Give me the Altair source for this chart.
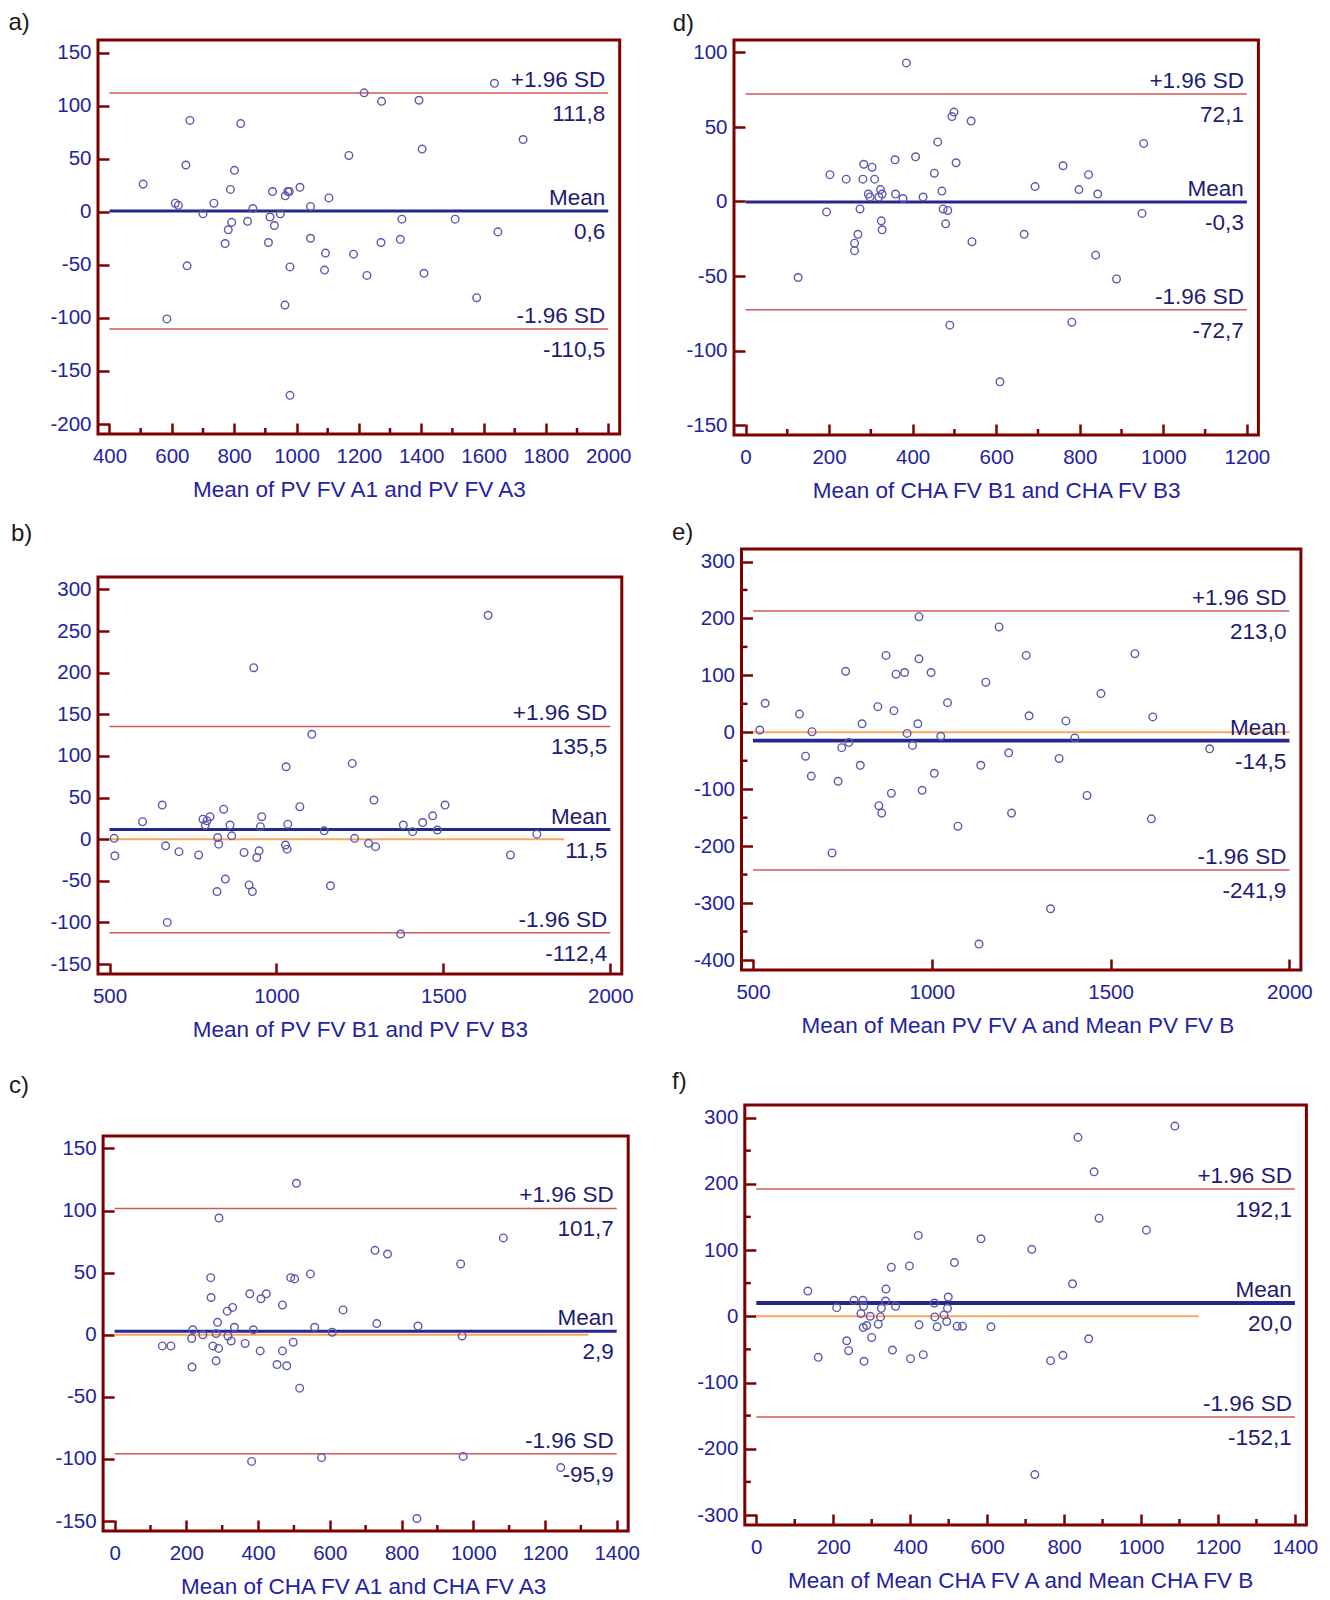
import altair as alt
import pandas as pd

# ---------------- data ----------------
a_x = [508, 584, 611, 621, 645, 649, 658, 700, 735, 771, 781, 788, 792, 801, 821, 843, 860, 910, 915, 923,
       929, 948, 964, 972, 977, 963, 979, 979, 1011, 1045, 1045, 1093, 1090, 1104, 1168, 1183, 1217, 1226, 1271, 1273,
       1333, 1338, 1393, 1403, 1409, 1509, 1578, 1635, 1646, 1727]
a_y = [26, -101, 8, 6, 44, -51, 86, -2, 8, -30, -17, 21, -10, 39, 83, -9, 3, -29, -5, 19,
       -13, -2, 15, 19, 19, -88, -52, -173, 23, 5, -25, -39, -55, 13, 53, -40, 112, -60, -29, 104,
       -26, -7, 105, 59, -58, -7, -81, 121, -19, 68]

b_x = [514, 516, 599, 658, 668, 673, 708, 767, 780, 787, 792, 801, 824, 827, 822, 842, 847, 861, 866, 903,
       918, 928, 932, 941, 948, 952, 956, 1027, 1032, 1029, 1034, 1070, 1106, 1143, 1162, 1227, 1234, 1276, 1292, 1297,
       1372, 1380, 1408, 1438, 1468, 1482, 1505, 1634, 1701, 1780]
b_y = [1, -20, 21, 41, -8, -100, -15, -19, 24, 17, 22, 27, 2, -6, -63, 36, -48, 17, 4, -16,
       -55, -63, 206, -22, -14, 15, 27, -7, -12, 87, 18, 39, 126, 10, -56, 91, 1, -5, 47, -9,
       -114, 17, 9, 20, 28, 11, 41, 269, -19, 6]

c_x = [133, 157, 215, 218, 216, 246, 268, 269, 274, 283, 283, 287, 290, 291, 314, 316, 325, 329, 334, 364,
       377, 382, 387, 406, 408, 423, 453, 468, 468, 480, 491, 502, 498, 507, 516, 546, 558, 577, 607, 637,
       726, 731, 761, 843, 846, 965, 969, 972, 1084, 1244]
c_y = [-9, -9, -3, 4, -26, 0, 46, 30, -9, 1, -21, 10, -11, 94, 19, -1, -5, 22, 6, -7,
       33, -102, 4, -13, 29, 33, -24, 24, -13, -25, 46, 45, -6, 122, -43, 49, 6, -99, 2, 20,
       68, 9, 65, -148, 7, 57, -1, -98, 78, -107]

d_x = [385, 126, 194, 202, 241, 261, 261, 269, 274, 281, 283, 294, 298, 303, 309, 319, 323, 327, 325, 327,
       358, 359, 377, 407, 425, 452, 460, 470, 473, 484, 479, 489, 494, 499, 504, 540, 542, 609, 667, 693,
       760, 781, 798, 821, 838, 843, 888, 949, 953]
d_y = [93, -51, -7, 18, 15, -28, -33, -22, -5, 15, 25, 5, 3, 23, 15, 3, 8, 5, -13, -19,
       28, 5, 2, 30, 3, 19, 40, 7, -5, -6, -15, -83, 57, 60, 26, 54, -27, -121, -22, 10,
       24, -81, 8, 18, -36, 5, -52, -8, 39]

e_x = [519, 534, 630, 647, 665, 663, 721, 738, 748, 759, 768, 800, 805, 849, 852, 860, 872, 887, 894, 900,
       924, 931, 946, 961, 964, 964, 973, 998, 1007, 1025, 1044, 1073, 1132, 1137, 1151, 1188, 1215, 1223, 1264, 1272,
       1332, 1356, 1375, 1400, 1434, 1473, 1568, 1614, 1618, 1777]
e_y = [4, 51, 32, -42, 1, -77, -212, -86, -27, 107, -18, -58, 15, 45, -129, -142, 135, -107, 38, 102,
       105, -2, -23, 15, 203, 129, -102, 105, -72, -7, 52, -165, -372, -58, 88, 185, -36, -142, 135, 29,
       -310, -46, 20, -10, -111, 68, 138, -152, 27, -29]

f_x = [134, 161, 209, 235, 240, 254, 272, 277, 279, 278, 280, 287, 296, 300, 317, 323, 325, 336, 337, 351,
       354, 362, 398, 401, 421, 423, 434, 463, 464, 470, 488, 495, 497, 499, 515, 522, 536, 584, 610, 716,
       724, 765, 797, 822, 836, 864, 878, 891, 1014, 1088]
f_y = [38, -62, 13, -37, -52, 24, 4, 24, 15, -17, -68, -14, 0, -32, -12, -1, 12, 23, 41, 74,
       -51, 15, 76, -64, 122, -13, -58, 20, -1, -16, 2, -8, 12, 29, 81, -15, -15, 117, -16, 101,
       -239, -67, -59, 49, 270, -34, 218, 148, 130, 287]

# limits of agreement: (+1.96 SD, mean, -1.96 SD) and their printed labels
a_stats = [111.8, 0.6, -110.5]; a_text = ["111,8", "0,6", "-110,5"]
b_stats = [135.5, 11.5, -112.4]; b_text = ["135,5", "11,5", "-112,4"]
c_stats = [101.7, 2.9, -95.9]; c_text = ["101,7", "2,9", "-95,9"]
d_stats = [72.1, -0.3, -72.7]; d_text = ["72,1", "-0,3", "-72,7"]
e_stats = [213.0, -14.5, -241.9]; e_text = ["213,0", "-14,5", "-241,9"]
f_stats = [192.1, 20.0, -152.1]; f_text = ["192,1", "20,0", "-152,1"]
stat_names = ["+1.96 SD", "Mean", "-1.96 SD"]

# end of the orange zero (line of equality) reference line
b_zero_end = 1862
c_zero_end = 1321
e_zero_end = 2000
f_zero_end = 1150

# axis ticks
a_xticks = list(range(400, 2001, 200)); a_yticks = list(range(-200, 151, 50))
b_xticks = [500, 1000, 1500, 2000];     b_yticks = list(range(-150, 301, 50))
c_xticks = list(range(0, 1401, 200));   c_yticks = list(range(-150, 151, 50))
d_xticks = list(range(0, 1201, 200));   d_yticks = list(range(-150, 101, 50))
e_xticks = [500, 1000, 1500, 2000];     e_yticks = list(range(-400, 301, 100))
f_xticks = list(range(0, 1401, 200));   f_yticks = list(range(-300, 301, 100))
a_xminor = list(range(500, 2000, 200))
c_xminor = list(range(100, 1400, 200))
d_xminor = list(range(100, 1200, 200))
f_xminor = list(range(100, 1400, 200))
e_yminor = list(range(-350, 300, 100))
f_yminor = list(range(-250, 300, 100))

# ---------------- style ----------------
FONT = "Liberation Sans"
FRAME = "#7d0000"
TICKTXT = "#2323a0"
ANN = "#1c1c72"
PTC = "#5b5bab"
SDC = "#d05a5a"
MEANC = "#26268c"
ORANGE = "#ffa45c"


def panel(label, lx, ly, xs_, ys_, stats, stext, xticks, yticks, xminor, yminor,
          zero_end, xtitle, W, H, fx=0.0, mean_w=3.0):
    # fx: left inset of the frame inside the view (keeps column plot origins aligned)
    PL, PR, PT, PB = fx + 11.5, 11.5, 12.5, 10.0
    x0, x1 = xticks[0], xticks[-1]
    y0, y1 = yticks[0], yticks[-1]
    kx = (x1 - x0) / (W - PL - PR)
    ky = (y1 - y0) / (H - PT - PB)
    xsc = alt.Scale(domain=[x0 - PL * kx, x1 + PR * kx], nice=False, zero=False)
    ysc = alt.Scale(domain=[y0 - PB * ky, y1 + PT * ky], nice=False, zero=False)

    xaxis = alt.Axis(values=xticks, labelExpr="'' + datum.value", offset=-11, tickSize=11,
                     tickWidth=2.5, tickColor=FRAME, domain=False, grid=False,
                     labelPadding=12, labelFont=FONT, labelFontSize=20.5, labelColor=TICKTXT,
                     labelFlush=False, labelOverlap=False,
                     title=xtitle, titleFont=FONT, titleFontSize=22.5, titleColor=TICKTXT,
                     titleFontWeight="normal", titlePadding=12)
    yaxis = alt.Axis(values=yticks, labelExpr="'' + datum.value", offset=-(11 + fx), tickSize=11,
                     tickWidth=2.5, tickColor=FRAME, domain=False, grid=False,
                     labelPadding=7, labelFont=FONT, labelFontSize=20.5, labelColor=TICKTXT,
                     labelFlush=False, labelOverlap=False, title=None)
    X = lambda f="x": alt.X(f"{f}:Q", scale=xsc, axis=xaxis)
    Y = lambda f="y": alt.Y(f"{f}:Q", scale=ysc, axis=yaxis)

    layers = []
    if xminor:
        layers.append(alt.Chart(pd.DataFrame({"x": xminor})).mark_rule(
            color=FRAME, strokeWidth=2.5).encode(x=X(), y=alt.value(H), y2=alt.value(H - 6)))
    if yminor:
        layers.append(alt.Chart(pd.DataFrame({"y": yminor})).mark_rule(
            color=FRAME, strokeWidth=2.5).encode(y=Y(), x=alt.value(fx), x2=alt.value(fx + 6)))
    if zero_end is not None:
        layers.append(alt.Chart(pd.DataFrame({"x": [x0], "x2": [zero_end], "y": [0]})).mark_rule(
            color=ORANGE, strokeWidth=2).encode(x=X(), x2="x2:Q", y=Y()))
    sd = pd.DataFrame({"x": [x0, x0], "x2": [x1, x1], "y": [stats[0], stats[2]]})
    layers.append(alt.Chart(sd).mark_rule(color=SDC, strokeWidth=1.5).encode(x=X(), x2="x2:Q", y=Y()))
    mn = pd.DataFrame({"x": [x0], "x2": [x1], "y": [stats[1]]})
    layers.append(alt.Chart(mn).mark_rule(color=MEANC, strokeWidth=mean_w).encode(x=X(), x2="x2:Q", y=Y()))
    pts = pd.DataFrame({"x": xs_, "y": ys_})
    layers.append(alt.Chart(pts).mark_point(shape="circle", filled=False, size=58, strokeWidth=1.4,
                                            color=PTC, opacity=1).encode(x=X(), y=Y()))
    ann = pd.DataFrame({"x": [x1] * 3, "y": stats, "name": stat_names, "val": stext})
    layers.append(alt.Chart(ann).mark_text(align="right", baseline="alphabetic", dx=-3, dy=-6,
                                           font=FONT, fontSize=22.5, color=ANN).encode(
        x=X(), y=Y(), text="name:N"))
    layers.append(alt.Chart(ann).mark_text(align="right", baseline="top", dx=-3, dy=10,
                                           font=FONT, fontSize=22.5, color=ANN).encode(
        x=X(), y=Y(), text="val:N"))
    # frame of the plot
    layers.append(alt.Chart(pd.DataFrame({"k": [0]})).mark_rect(
        filled=False, fillOpacity=0, stroke=FRAME, strokeWidth=3).encode(
        x=alt.value(fx), x2=alt.value(W), y=alt.value(0), y2=alt.value(H)))
    layers.append(alt.Chart(pd.DataFrame({"t": [label]})).mark_text(
        align="left", baseline="alphabetic", font=FONT, fontSize=24, color="#1a1a1a").encode(
        x=alt.value(lx), y=alt.value(ly), text="t:N"))
    return alt.layer(*layers).properties(width=W, height=H)


pa = panel("a)", -89.5, -10, a_x, a_y, a_stats, a_text, a_xticks, a_yticks, a_xminor, None, None,
           "Mean of PV FV A1 and PV FV A3", 521.7, 394)
pb = panel("b)", -87, -36, b_x, b_y, b_stats, b_text, b_xticks, b_yticks, None, None, b_zero_end,
           "Mean of PV FV B1 and PV FV B3", 523.8, 397)
pc = panel("c)", -89, -43, c_x, c_y, c_stats, c_text, c_xticks, c_yticks, c_xminor, None, c_zero_end,
           "Mean of CHA FV A1 and CHA FV A3", 530.2, 395, fx=5.1)
pd_ = panel("d)", -61.3, -8.6, d_x, d_y, d_stats, d_text, d_xticks, d_yticks, d_xminor, None, None,
            "Mean of CHA FV B1 and CHA FV B3", 524.4, 395)
pe = panel("e)", -62, -8.6, e_x, e_y, e_stats, e_text, e_xticks, e_yticks, None, e_yminor, e_zero_end,
           "Mean of Mean PV FV A and Mean PV FV B", 566.9, 421, fx=7.5, mean_w=3.8)
pf = panel("f)", -62, -16, f_x, f_y, f_stats, f_text, f_xticks, f_yticks, f_xminor, f_yminor, f_zero_end,
           "Mean of Mean CHA FV A and Mean CHA FV B", 572.4, 420, fx=10.8, mean_w=3.8)

left = alt.vconcat(alt.vconcat(pa, pb, spacing=21), pc, spacing=33)
right = alt.vconcat(alt.vconcat(pd_, pe, spacing=19), pf, spacing=33)

chart = alt.hconcat(left, right, spacing=32).properties(
    padding={"left": 0, "top": 3, "right": 0, "bottom": 0}
).configure_view(stroke="transparent", strokeWidth=0)

chart.save("out.html", embed_options={"renderer": "svg", "actions": False})
